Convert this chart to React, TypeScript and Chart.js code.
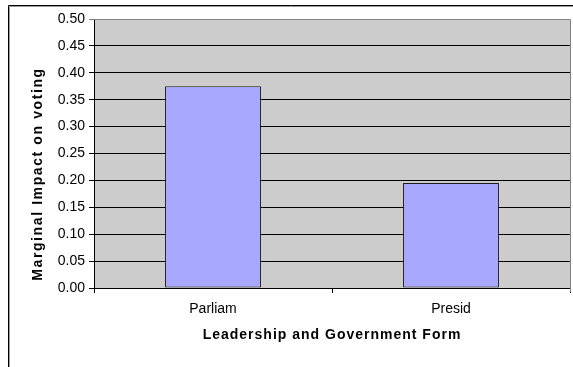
import React, { useEffect, useRef } from "react";
import { Chart, registerables } from "chart.js";

Chart.register(...registerables);

// Leadership / government form categories and their marginal impact on voting
const categories: string[] = ["Parliam", "Presid"];
const marginalImpact: number[] = [0.375, 0.195];

// Value axis range
const yMin = 0;
const yMax = 0.5;
const yStep = 0.05;

const xTitle = "Leadership and Government Form";
const yTitle = "Marginal Impact on voting";

const FONT = "'Liberation Sans', Arial, Helvetica, sans-serif";
const W = 573;
const H = 367;

// Draws the gray plot background, plot frame, outer frame and axis titles
const framePlugin = {
  id: "excelFrame",
  beforeDraw(chart: any) {
    const { ctx, chartArea: a } = chart;
    ctx.save();
    ctx.fillStyle = "#ffffff";
    ctx.fillRect(0, 0, chart.width, chart.height);
    ctx.fillStyle = "#cccccc";
    ctx.fillRect(a.left, a.top, a.right - a.left, a.bottom - a.top);
    ctx.restore();
  },
  afterDraw(chart: any) {
    const { ctx, chartArea: a } = chart;
    ctx.save();
    // plot area frame (top & right)
    ctx.strokeStyle = "#808080";
    ctx.lineWidth = 1;
    ctx.beginPath();
    ctx.moveTo(a.left, a.top + 0.5);
    ctx.lineTo(a.right + 0.5, a.top + 0.5);
    ctx.lineTo(a.right + 0.5, a.bottom + 4);
    ctx.stroke();

    // outer chart frame (top & left)
    ctx.strokeStyle = "#000000";
    ctx.beginPath();
    ctx.moveTo(8.5, H);
    ctx.lineTo(8.5, 5.5);
    ctx.lineTo(W, 5.5);
    ctx.stroke();
    ctx.strokeStyle = "#9a9a9a";
    ctx.beginPath();
    ctx.moveTo(9.5, H);
    ctx.lineTo(9.5, 6.5);
    ctx.lineTo(W, 6.5);
    ctx.stroke();

    // axis titles
    ctx.fillStyle = "#000000";
    ctx.font = `bold 14px ${FONT}`;
    ctx.textAlign = "center";
    ctx.textBaseline = "middle";
    (ctx as any).letterSpacing = "1px";
    ctx.fillText(xTitle, (a.left + a.right) / 2, 335);

    (ctx as any).letterSpacing = "1.6px";
    ctx.translate(38, 174);
    ctx.rotate(-Math.PI / 2);
    ctx.fillText(yTitle, 0, 0);
    ctx.restore();
  },
};

export default function App() {
  const canvasRef = useRef<HTMLCanvasElement | null>(null);

  useEffect(() => {
    if (!canvasRef.current) return;
    const chart = new Chart(canvasRef.current, {
      type: "bar",
      data: {
        labels: categories,
        datasets: [
          {
            data: marginalImpact,
            backgroundColor: "#a8a8ff",
            borderColor: "#1a1a1a",
            borderWidth: 1,
            borderSkipped: false,
            categoryPercentage: 1,
            barPercentage: 0.403,
          },
        ],
      },
      options: {
        responsive: false,
        animation: false,
        devicePixelRatio: 1,
        layout: { padding: { left: 0, top: 19, right: 3, bottom: 0 } },
        plugins: {
          legend: { display: false },
          tooltip: { enabled: false },
          title: { display: false },
        },
        scales: {
          x: {
            type: "category",
            offset: true,
            afterFit(scale: any) {
              scale.height = 79;
            },
            grid: {
              offset: true,
              drawOnChartArea: false,
              drawTicks: true,
              tickLength: 5,
              color: "#000000",
            },
            border: { display: true, color: "#000000", width: 1 },
            ticks: {
              color: "#000000",
              font: { family: FONT, size: 14 },
              padding: 8,
              maxRotation: 0,
            },
          },
          y: {
            min: yMin,
            max: yMax,
            afterFit(scale: any) {
              scale.width = 94;
            },
            grid: {
              drawTicks: true,
              tickLength: 5,
              color: (c: any) =>
                c.tick && Math.abs(c.tick.value - yMax) < 1e-9 ? "#808080" : "#000000",
            },
            border: { display: true, color: "#000000", width: 1 },
            ticks: {
              stepSize: yStep,
              color: "#000000",
              font: { family: FONT, size: 14 },
              padding: 4,
              callback: (v: any) => Number(v).toFixed(2),
            },
          },
        },
      },
      plugins: [framePlugin],
    });
    return () => chart.destroy();
  }, []);

  return (
    <div style={{ position: "absolute", left: 0, top: 0, width: W, height: H, background: "#fff" }}>
      <canvas ref={canvasRef} width={W} height={H} style={{ display: "block" }} />
    </div>
  );
}
